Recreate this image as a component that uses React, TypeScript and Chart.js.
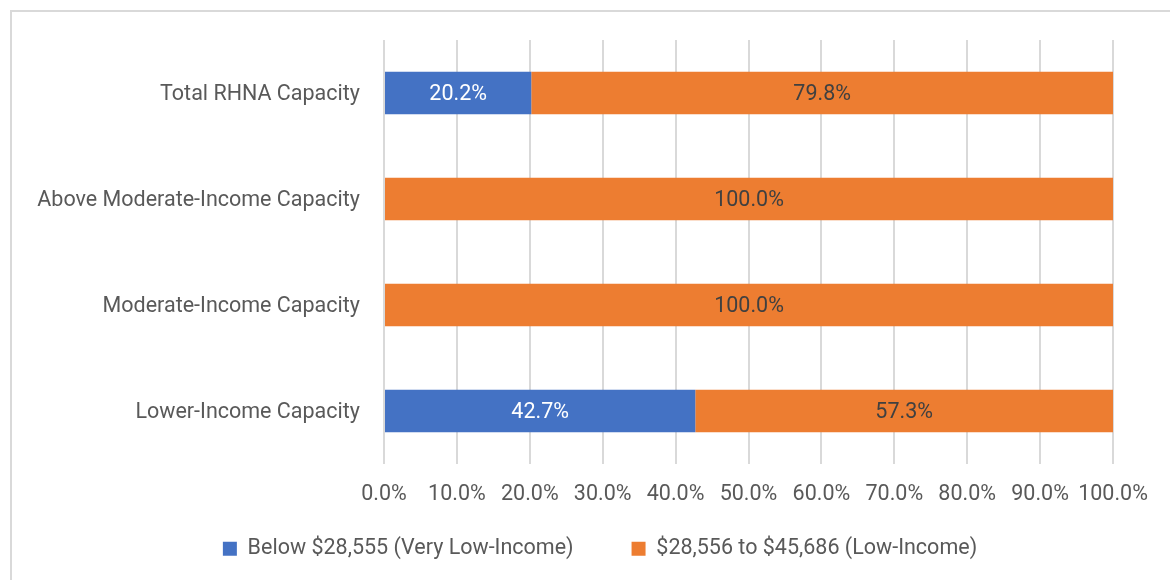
import React, { useEffect, useRef } from "react";
import { Chart, registerables } from "chart.js";

Chart.register(...registerables);

const categories = [
  "Total RHNA Capacity",
  "Above Moderate-Income Capacity",
  "Moderate-Income Capacity",
  "Lower-Income Capacity",
];
const veryLowIncome = [20.2, 0, 0, 42.7];
const lowIncome = [79.8, 100, 100, 57.3];
const seriesNames = ["Below $28,555 (Very Low-Income)", "$28,556 to $45,686 (Low-Income)"];
const xTicks = [0, 10, 20, 30, 40, 50, 60, 70, 80, 90, 100];

const FONT = "Roboto, 'Liberation Sans', sans-serif";
const TEXT = "#595959";
const FS = 21.5;

const labelPlugin = {
  id: "barLabels",
  afterDatasetsDraw(chart: any) {
    const ctx = chart.ctx;
    ctx.save();
    ctx.font = `${FS}px ${FONT}`;
    ctx.textAlign = "center";
    ctx.textBaseline = "middle";
    chart.data.datasets.forEach((ds: any, di: number) => {
      const meta = chart.getDatasetMeta(di);
      ctx.fillStyle = di === 0 ? "#ffffff" : "#404040";
      meta.data.forEach((el: any, i: number) => {
        const v = ds.data[i];
        if (!v) return;
        const cx = (el.x + el.base) / 2;
        ctx.fillText(v.toFixed(1) + "%", cx, el.y + 2);
      });
    });
    ctx.restore();
  },
};

const legendPlace = {
  id: "legendPlace",
  afterLayout(chart: any) {
    const lg = chart.legend;
    if (!lg) return;
    lg.left = 87;
    lg.top = 480;
  },
};

export default function App() {
  const ref = useRef<HTMLCanvasElement>(null);
  useEffect(() => {
    if (!ref.current) return;
    const chart = new Chart(ref.current, {
      type: "bar",
      data: {
        labels: categories,
        datasets: [
          {
            label: seriesNames[0],
            data: veryLowIncome,
            backgroundColor: "#4472C4",
            barPercentage: 0.4,
            categoryPercentage: 1,
          },
          {
            label: seriesNames[1],
            data: lowIncome,
            backgroundColor: "#ED7D31",
            barPercentage: 0.4,
            categoryPercentage: 1,
          },
        ],
      },
      options: {
        indexAxis: "y",
        responsive: false,
        animation: false,
        layout: { padding: { left: 0, right: 57, top: 40, bottom: 0 } },
        scales: {
          x: {
            stacked: true,
            min: 0,
            max: 100,
            afterBuildTicks: (scale: any) => {
              scale.ticks = xTicks.map((v) => ({ value: v }));
            },
            afterFit: (scale: any) => {
              scale.height = 65;
            },
            grid: { color: "#d9d9d9", lineWidth: 2, drawTicks: false },
            border: { display: false },
            ticks: {
              padding: 18,
              color: TEXT,
              autoSkip: false,
              maxRotation: 0,
              minRotation: 0,
              font: { family: FONT, size: FS },
              callback: (v: any) => Number(v).toFixed(1) + "%",
            },
          },
          y: {
            stacked: true,
            afterFit: (scale: any) => {
              scale.width = 384;
            },
            grid: { display: false, drawTicks: false },
            border: { display: false },
            ticks: {
              padding: 24,
              labelOffset: 2,
              color: TEXT,
              font: { family: FONT, size: FS },
            },
          },
        },
        plugins: {
          legend: {
            position: "bottom",
            maxHeight: 51,
            labels: {
              color: TEXT,
              font: { family: FONT, size: FS },
              boxWidth: 14,
              boxHeight: 14,
              padding: 58,
            },
          },
          tooltip: { enabled: false },
        },
      },
      plugins: [labelPlugin, legendPlace],
    });
    return () => chart.destroy();
  }, []);
  return (
    <div style={{ position: "fixed", left: 0, top: 0, width: 1170, height: 580, background: "#fff" }}>
      <div
        style={{
          position: "absolute",
          left: 10,
          top: 10,
          width: 1200,
          height: 620,
          border: "2px solid #d9d9d9",
          boxSizing: "border-box",
        }}
      />
      <canvas ref={ref} width={1170} height={580} style={{ position: "absolute", left: 0, top: 0 }} />
    </div>
  );
}
